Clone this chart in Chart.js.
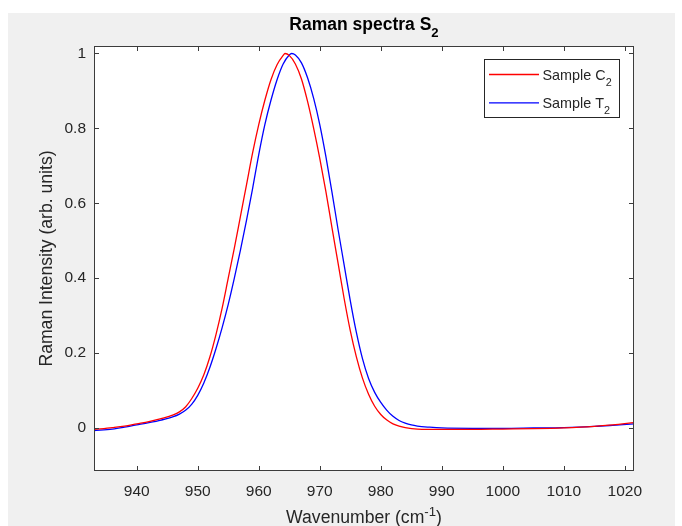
<!DOCTYPE html>
<html>
<head>
<meta charset="utf-8">
<script src="https://cdn.jsdelivr.net/npm/chart.js@4.4.1/dist/chart.umd.min.js"></script>
<style>
  html, body { margin: 0; padding: 0; background: #fff; }
  #fig { position: absolute; left: 8px; top: 13px; width: 667px; height: 513px; background: #f0f0f0; }
</style>
</head>
<body>
<div id="fig"><canvas id="raman" width="667" height="513"></canvas></div>
<script>
// sample C2 (red)
const redWn = [933, 936, 938, 940, 942, 944, 946, 947, 948, 949, 950, 951, 952, 953, 954, 955, 956, 957, 958, 959, 960, 961, 962, 963, 964, 964.3, 965, 966, 967, 968, 969, 970, 971, 972, 973, 974, 975, 976, 977, 978, 979, 980, 981, 982, 983, 984, 986, 990, 995, 1000, 1005, 1010, 1015, 1018, 1021.5];
const redI  = [-0.004, 0.001, 0.005, 0.011, 0.017, 0.025, 0.035, 0.043, 0.056, 0.078, 0.106, 0.142, 0.19, 0.25, 0.32, 0.40, 0.48, 0.565, 0.65, 0.735, 0.81, 0.875, 0.93, 0.97, 0.995, 1.0, 0.995, 0.972, 0.932, 0.872, 0.80, 0.72, 0.632, 0.535, 0.44, 0.345, 0.26, 0.19, 0.133, 0.09, 0.058, 0.036, 0.021, 0.011, 0.005, 0.001, -0.003, -0.004, -0.004, -0.003, -0.002, 0.0, 0.004, 0.008, 0.014];

// sample T2 (blue)
const blueWn = [933, 936, 938, 940, 942, 944, 946, 947, 948, 949, 950, 951, 952, 953, 954, 955, 956, 957, 958, 959, 960, 961, 962, 963, 964, 965, 965.4, 966, 967, 968, 969, 970, 971, 972, 973, 974, 975, 976, 977, 978, 979, 980, 981, 982, 983, 984, 985, 986, 988, 990, 995, 1000, 1005, 1010, 1015, 1018, 1021.5];
const blueI  = [-0.007, -0.003, 0.002, 0.008, 0.014, 0.021, 0.03, 0.037, 0.047, 0.063, 0.087, 0.12, 0.162, 0.212, 0.268, 0.33, 0.40, 0.475, 0.555, 0.64, 0.73, 0.81, 0.875, 0.93, 0.972, 0.996, 1.0, 0.996, 0.975, 0.935, 0.88, 0.81, 0.725, 0.63, 0.53, 0.435, 0.34, 0.255, 0.185, 0.132, 0.095, 0.068, 0.047, 0.031, 0.02, 0.013, 0.008, 0.005, 0.002, 0.0, -0.001, -0.001, 0.0, 0.001, 0.004, 0.007, 0.011];

const xTicks = [940, 950, 960, 970, 980, 990, 1000, 1010, 1020];
const yTicks = [0, 0.2, 0.4, 0.6, 0.8, 1];
const yTickLabels = ['0', '0.2', '0.4', '0.6', '0.8', '1'];
const seriesNames = ['Sample C', 'Sample T'];
const seriesColors = ['#ff0000', '#0000ff'];

const FONT = '"Liberation Sans", Arial, Helvetica, sans-serif';
const INK = '#262626';

// text with sub/superscript pieces, centred or left aligned
function richText(ctx, parts, x, y, size, weight, align) {
  const widths = parts.map(p => {
    const s = p[1] ? size * 0.75 : size;
    ctx.font = weight + ' ' + s + 'px ' + FONT;
    return ctx.measureText(p[0]).width;
  });
  const total = widths.reduce((a, b) => a + b, 0);
  let cx = align === 'center' ? x - total / 2 : x;
  ctx.textAlign = 'left';
  ctx.textBaseline = 'alphabetic';
  parts.forEach((p, i) => {
    const s = p[1] ? size * 0.75 : size;
    const dy = p[1] === 'sub' ? size * 0.45 : p[1] === 'sup' ? -size * 0.42 : 0;
    ctx.font = weight + ' ' + s + 'px ' + FONT;
    ctx.fillText(p[0], cx, y + dy);
    cx += widths[i];
  });
}

const matlabLook = {
  id: 'matlabLook',
  beforeDraw(chart) {
    const a = chart.chartArea, ctx = chart.ctx;
    ctx.save();
    ctx.fillStyle = '#ffffff';
    ctx.fillRect(a.left, a.top, a.right - a.left, a.bottom - a.top);
    ctx.restore();
  },
  afterDraw(chart) {
    const a = chart.chartArea, ctx = chart.ctx;
    const xs = chart.scales.x, ys = chart.scales.y;
    ctx.save();
    ctx.strokeStyle = '#3c3c3c';
    ctx.lineWidth = 1;
    ctx.strokeRect(a.left + 0.5, a.top + 0.5, a.right - a.left - 1, a.bottom - a.top - 1);
    // inward ticks on all four sides
    ctx.beginPath();
    xs.ticks.forEach(t => {
      const px = Math.round(xs.getPixelForValue(t.value)) + 0.5;
      ctx.moveTo(px, a.bottom); ctx.lineTo(px, a.bottom - 5);
      ctx.moveTo(px, a.top); ctx.lineTo(px, a.top + 5);
    });
    ys.ticks.forEach(t => {
      const py = Math.round(ys.getPixelForValue(t.value)) + 0.5;
      ctx.moveTo(a.left, py); ctx.lineTo(a.left + 5, py);
      ctx.moveTo(a.right, py); ctx.lineTo(a.right - 5, py);
    });
    ctx.stroke();

    ctx.fillStyle = '#000';
    const cx = (a.left + a.right) / 2;
    richText(ctx, [['Raman spectra S', ''], ['2', 'sub']], cx, 16.5, 17.5, 'bold', 'center');
    ctx.fillStyle = INK;
    richText(ctx, [['Wavenumber (cm', ''], ['-1', 'sup'], [')', '']], cx, 510, 17.6, 'normal', 'center');

    // legend box
    const lx = 476, ly = 46, lw = 136, lh = 59;
    ctx.fillStyle = '#ffffff';
    ctx.fillRect(lx, ly, lw, lh);
    ctx.strokeStyle = INK;
    ctx.strokeRect(lx + 0.5, ly + 0.5, lw - 1, lh - 1);
    chart.data.datasets.forEach((ds, i) => {
      const yy = 61.5 + i * 28.4;
      ctx.strokeStyle = ds.borderColor;
      ctx.lineWidth = 1.3;
      ctx.beginPath();
      ctx.moveTo(481, yy); ctx.lineTo(531, yy);
      ctx.stroke();
      ctx.fillStyle = INK;
      richText(ctx, [[seriesNames[i], ''], ['2', 'sub']], 534.5, yy + 5, 14.4, 'normal', 'left');
    });
    ctx.restore();
  }
};

new Chart(document.getElementById('raman'), {
  type: 'line',
  data: {
    datasets: [
      { label: 'Sample C2', data: redWn.map((x, i) => ({ x: x, y: redI[i] })), borderColor: seriesColors[0] },
      { label: 'Sample T2', data: blueWn.map((x, i) => ({ x: x, y: blueI[i] })), borderColor: seriesColors[1] }
    ].map(d => Object.assign(d, { borderWidth: 1.3, pointRadius: 0, fill: false, cubicInterpolationMode: 'monotone' }))
  },
  options: {
    responsive: false,
    animation: false,
    layout: { padding: { left: 29, right: 41, top: 33, bottom: 0 } },
    plugins: { legend: { display: false }, title: { display: false }, tooltip: { enabled: false } },
    scales: {
      x: {
        type: 'linear', min: 933, max: 1021.5,
        afterBuildTicks: s => { s.ticks = xTicks.map(v => ({ value: v })); },
        afterFit: s => { s.height = 55; },
        grid: { display: false, drawTicks: false },
        border: { display: false },
        ticks: { padding: 11, color: INK, font: { family: FONT, size: 15.5 }, callback: v => String(v) }
      },
      y: {
        type: 'linear', min: -0.115, max: 1.02,
        afterBuildTicks: s => { s.ticks = yTicks.map(v => ({ value: v })); },
        afterFit: s => { s.width = 57; },
        grid: { display: false, drawTicks: false },
        border: { display: false },
        title: { display: true, text: 'Raman Intensity (arb. units)', color: INK, font: { family: FONT, size: 17.6 }, padding: 0 },
        ticks: { padding: 8, color: INK, font: { family: FONT, size: 15.5 }, callback: (v, i) => yTickLabels[i] }
      }
    }
  },
  plugins: [matlabLook]
});
</script>
</body>
</html>
